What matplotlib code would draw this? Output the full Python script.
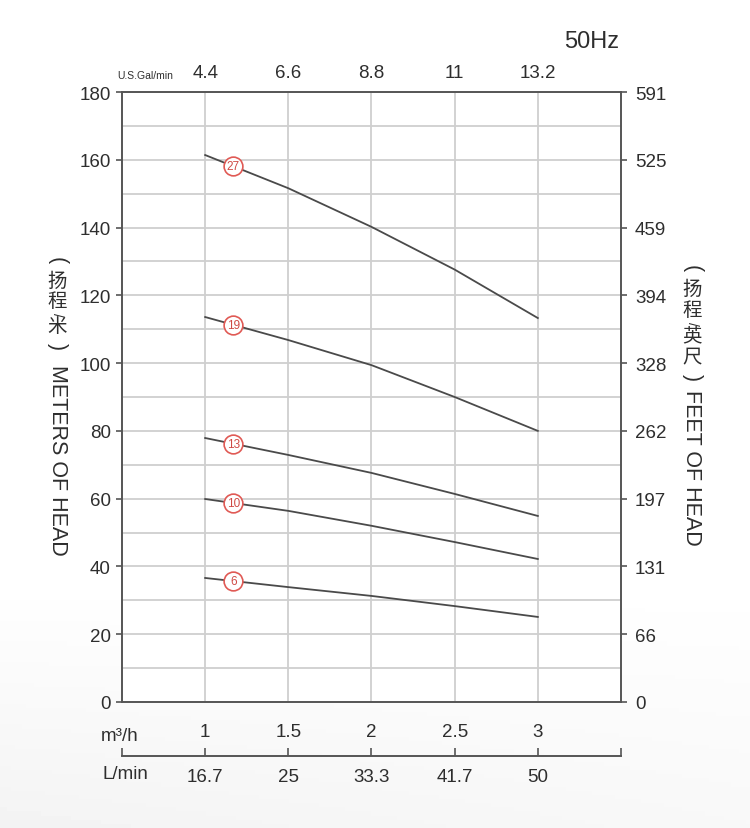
import numpy as np
import matplotlib
matplotlib.use("Agg")
import matplotlib.pyplot as plt
from matplotlib.ticker import MultipleLocator

plt.rcParams['font.family'] = ['Liberation Sans', 'Noto Sans CJK SC', 'DejaVu Sans']

# flow (m3/h) and head (m)
flow = [1.0, 1.5, 2.0, 2.5, 3.0]
head_27 = [161.4, 151.6, 140.2, 127.6, 113.3]
head_19 = [113.6, 106.8, 99.4, 90.0, 80.0]
head_13 = [77.9, 72.9, 67.6, 61.4, 54.9]
head_10 = [59.9, 56.4, 52.0, 47.2, 42.2]
head_6 = [36.6, 33.9, 31.3, 28.3, 25.1]
curves = [("27", head_27), ("19", head_19), ("13", head_13), ("10", head_10), ("6", head_6)]
label_flow = 1.17

m3h_ticks = [1, 1.5, 2, 2.5, 3]
m3h_labels = ["1", "1.5", "2", "2.5", "3"]
lmin_labels = ["16.7", "25", "33.3", "41.7", "50"]
gal_labels = ["4.4", "6.6", "8.8", "11", "13.2"]
meter_ticks = list(range(0, 181, 20))
feet_labels = ["0", "66", "131", "197", "262", "328", "394", "459", "525", "591"]

W, H = 750, 829
fig = plt.figure(figsize=(W / 100, H / 100), dpi=100)

# faint grey backdrop fading towards the bottom
bg = fig.add_axes([0, 0, 1, 1], zorder=-10)
yy = np.linspace(0, 1, 200)[:, None]
xx = np.linspace(0, 1, 200)[None, :]
shade = np.clip((yy - 0.7) * 2.2, 0, 1) * (0.6 + 0.4 * (1 - xx))
bg.imshow(1 - 0.07 * shade, cmap='gray', vmin=0, vmax=1, aspect='auto', extent=[0, 1, 0, 1])
bg.axis('off')

def fx(px):
    return px / W

def fy(py):
    return 1 - py / H

ax = fig.add_axes([fx(122), fy(703), (621 - 122) / W, (703 - 93) / H])
ax.set_facecolor('white')
ax.set_xlim(0.5, 3.5)
ax.set_ylim(0, 180)

spine_col = '#555555'
grid_col = '#cfcfcf'
txt_col = '#2e2e2e'
fs = 13.5

for s in ax.spines.values():
    s.set_color(spine_col)
    s.set_linewidth(1.4)

ax.set_xticks(m3h_ticks)
ax.set_xticklabels(m3h_labels)
ax.set_yticks(meter_ticks)
ax.yaxis.set_minor_locator(MultipleLocator(10))
ax.grid(True, which='both', color=grid_col, linewidth=1.3, zorder=0)
ax.tick_params(axis='x', length=0, pad=15, labelsize=fs, labelcolor=txt_col)
ax.tick_params(axis='y', which='major', length=4, width=1.2, color=spine_col, pad=4,
               labelsize=fs, labelcolor=txt_col)
ax.tick_params(axis='y', which='minor', length=0)

axr = ax.twinx()
axr.set_ylim(0, 180)
axr.set_yticks(meter_ticks)
axr.set_yticklabels(feet_labels)
axr.tick_params(axis='y', length=4, width=1.2, color=spine_col, pad=6,
                labelsize=fs, labelcolor=txt_col)
for s in axr.spines.values():
    s.set_visible(False)

top = ax.secondary_xaxis('top')
top.set_xticks(m3h_ticks)
top.set_xticklabels(gal_labels)
top.tick_params(length=0, pad=8, labelsize=fs, labelcolor=txt_col)
top.spines['top'].set_visible(False)

low = ax.secondary_xaxis(-(757 - 703) / (703 - 93))
low.set_xticks([0.5] + m3h_ticks + [3.5])
low.set_xticklabels([""] + lmin_labels + [""])
low.tick_params(direction='in', length=6, width=1.2, color=spine_col, pad=9,
                labelsize=fs, labelcolor=txt_col)
low.spines['bottom'].set_color(spine_col)
low.spines['bottom'].set_linewidth(1.4)

# pump curves with stage-number badges
for name, h in curves:
    ax.plot(flow, h, color='#4a4a4a', linewidth=1.3, zorder=3)
    ly = np.interp(label_flow, flow, h)
    ax.plot(label_flow, ly, 'o', markersize=13.5, markerfacecolor='white',
            markeredgecolor='#e05a55', markeredgewidth=1.2, zorder=4)
    ax.text(label_flow, ly, name, ha='center', va='center', fontsize=8.5,
            color='#cf4a45', zorder=5)

# unit captions
fig.text(fx(592), fy(42), "50Hz", ha='center', va='center', fontsize=17, color=txt_col)
fig.text(fx(145), fy(76), "U.S.Gal/min", ha='center', va='center', fontsize=7.5, color=txt_col)
fig.text(fx(120), fy(737), "m³/h", ha='center', va='center', fontsize=fs, color=txt_col)
fig.text(fx(125), fy(775), "L/min", ha='center', va='center', fontsize=fs, color=txt_col)

# vertical axis titles: CJK upright, latin rotated
def vlabel(x, parts):
    for kind, s, y in parts:
        if kind == 'cjk':
            fig.text(fx(x), fy(y), s, ha='center', va='center', fontsize=14,
                     color=txt_col, family=['Noto Sans CJK SC'])
        elif kind == 'sl':
            fig.text(fx(x), fy(y), s, ha='center', va='center', fontsize=10,
                     rotation=270, color=txt_col)
        else:
            fig.text(fx(x), fy(y), s, ha='center', va='center', fontsize=15.5,
                     rotation=270, color=txt_col)

vlabel(57, [('lat', "(", 261), ('cjk', "扬", 281), ('cjk', "程", 302),
            ('sl', "/", 315), ('cjk', "米", 327), ('lat', ")", 347),
            ('lat', "METERS OF HEAD", 460)])
vlabel(692, [('lat', "(", 269), ('cjk', "扬", 289), ('cjk', "程", 311),
             ('sl', "/", 324), ('cjk', "英", 337), ('cjk', "尺", 358),
             ('lat', ")", 378), ('lat', "FEET OF HEAD", 468)])

fig.savefig("out.png", dpi=100)
